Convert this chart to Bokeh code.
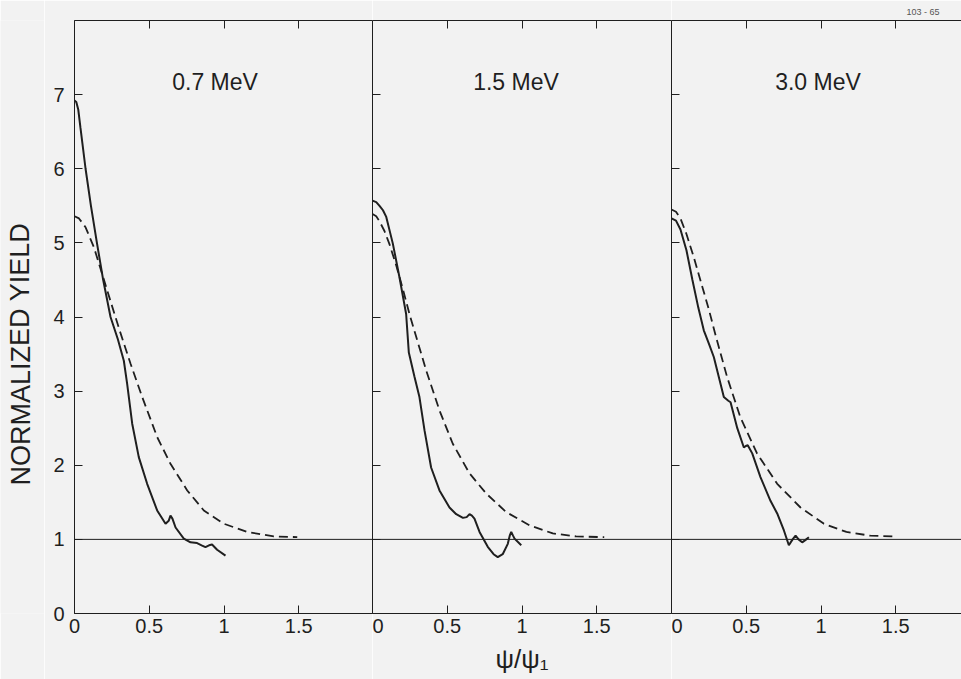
from bokeh.plotting import figure
from bokeh.layouts import row
from bokeh.models import (FixedTicker, NumeralTickFormatter, LinearAxis, Span, Label,
                          Range1d, CustomJSTickFormatter, Title)
from bokeh.embed import file_html
from bokeh.resources import INLINE

# ---------------- data ----------------
x_ticks = [0, 0.5, 1, 1.5]
y_ticks = [0, 1, 2, 3, 4, 5, 6, 7]
energy_labels = ["0.7 MeV", "1.5 MeV", "3.0 MeV"]
y_title = "NORMALIZED YIELD"
x_title = "ψ/ψ₁"
figure_code = "103 - 65"

# 0.7 MeV, measured (solid)
x07_meas = [0, 0.012, 0.025, 0.04, 0.074, 0.11, 0.15, 0.19, 0.241, 0.29, 0.33, 0.352,
            0.386, 0.43, 0.486, 0.553, 0.609, 0.63, 0.642, 0.655, 0.676, 0.731, 0.776,
            0.82, 0.85, 0.876, 0.9, 0.92, 0.954, 1.01]
y07_meas = [6.92, 6.9, 6.8, 6.55, 6.0, 5.5, 5.0, 4.52, 4.0, 3.7, 3.41, 3.10,
            2.56, 2.11, 1.75, 1.39, 1.21, 1.25, 1.32, 1.28, 1.16, 1.01, 0.96,
            0.95, 0.92, 0.895, 0.92, 0.93, 0.86, 0.78]
# 0.7 MeV, calculated (dashed)
x07_calc = [0, 0.03, 0.074, 0.13, 0.185, 0.24, 0.297, 0.375, 0.453, 0.553, 0.642,
            0.754, 0.865, 1.0, 1.155, 1.333, 1.49]
y07_calc = [5.36, 5.33, 5.21, 4.94, 4.58, 4.22, 3.85, 3.37, 2.92, 2.38, 2.02,
            1.66, 1.39, 1.21, 1.10, 1.04, 1.03]

# 1.5 MeV, measured
x15_meas = [0, 0.025, 0.047, 0.07, 0.092, 0.136, 0.18, 0.225, 0.243, 0.28, 0.314,
            0.348, 0.392, 0.448, 0.515, 0.56, 0.605, 0.63, 0.649, 0.665, 0.682,
            0.716, 0.771, 0.81, 0.838, 0.871, 0.905, 0.918, 0.928, 0.94, 0.95, 0.995]
y15_meas = [5.57, 5.55, 5.5, 5.44, 5.35, 4.99, 4.54, 4.04, 3.52, 3.2, 2.92,
            2.47, 1.97, 1.66, 1.43, 1.34, 1.29, 1.3, 1.34, 1.32, 1.28,
            1.10, 0.90, 0.8, 0.76, 0.80, 0.94, 1.05, 1.10, 1.05, 1.01, 0.92]
# 1.5 MeV, calculated
x15_calc = [0, 0.025, 0.047, 0.08, 0.114, 0.158, 0.2, 0.25, 0.303, 0.359, 0.448,
            0.537, 0.649, 0.76, 0.893, 1.05, 1.206, 1.362, 1.55]
y15_calc = [5.39, 5.36, 5.29, 5.16, 4.98, 4.7, 4.4, 4.02, 3.66, 3.28, 2.74,
            2.29, 1.89, 1.62, 1.37, 1.19, 1.08, 1.04, 1.03]

# 3.0 MeV, measured
x30_meas = [0, 0.03, 0.06, 0.1, 0.14, 0.18, 0.216, 0.25, 0.283, 0.35, 0.38, 0.395,
            0.44, 0.484, 0.497, 0.51, 0.54, 0.595, 0.662, 0.707, 0.752, 0.785,
            0.81, 0.83, 0.85, 0.874, 0.895, 0.919]
y30_meas = [5.33, 5.3, 5.18, 4.9, 4.5, 4.12, 3.82, 3.64, 3.46, 2.92, 2.87, 2.85,
            2.5, 2.24, 2.26, 2.27, 2.16, 1.84, 1.52, 1.35, 1.12, 0.92,
            1.0, 1.05, 1.0, 0.96, 0.99, 1.03]
# 3.0 MeV, calculated
x30_calc = [0, 0.03, 0.06, 0.1, 0.15, 0.2, 0.25, 0.294, 0.372, 0.46, 0.572, 0.707,
            0.863, 1.02, 1.17, 1.33, 1.5]
y30_calc = [5.45, 5.42, 5.33, 5.12, 4.8, 4.45, 4.1, 3.76, 3.19, 2.65, 2.16, 1.75,
            1.43, 1.21, 1.10, 1.05, 1.04]

baseline = 1.0

# ---------------- style ----------------
BG = "#f2f2f2"
INK = "#1f1f1f"
FONT = "Liberation Sans"
PX_PER_UNIT = 149.5
H = 679
TOP, BOTTOM = 20, 66
LABEL_W = 44  # strip holding the vertical axis title

panels = [
    (energy_labels[0], x07_meas, y07_meas, x07_calc, y07_calc),
    (energy_labels[1], x15_meas, y15_meas, x15_calc, y15_calc),
    (energy_labels[2], x30_meas, y30_meas, x30_calc, y30_calc),
]
frame_widths = [298, 299, 290]
left_borders = [30, 0, 0]
title_x = [0.94, 0.96, 0.98]

empty_fmt = "return ''"


def style_axis(ax, labels):
    ax.axis_line_color = INK
    ax.axis_line_width = 1
    ax.major_tick_line_color = INK
    ax.major_tick_in = 8
    ax.major_tick_out = 0
    ax.minor_tick_line_color = None
    ax.major_label_text_font = FONT
    ax.major_label_text_font_size = "20px"
    ax.major_label_text_color = INK
    if not labels:
        ax.formatter = CustomJSTickFormatter(code=empty_fmt)
        ax.major_label_standoff = 0


# strip with the vertical y-axis title
ylab = figure(width=LABEL_W, height=H, x_range=Range1d(0, LABEL_W),
              y_range=Range1d(0, H), output_backend="svg", toolbar_location=None,
              x_axis_location=None, y_axis_location=None,
              min_border=0, background_fill_color=BG, border_fill_color=BG,
              outline_line_color=None)
ylab.grid.visible = False
ylab.add_layout(Label(x=20, y=H - 382, text=y_title, text_font=FONT,
                      text_font_size="27px", text_color=INK, angle=1.5708,
                      text_align="center", text_baseline="middle"))

figs = [ylab]
for i, (title, xm, ym, xc, yc) in enumerate(panels):
    fw = frame_widths[i]
    lb = left_borders[i]
    p = figure(width=fw + lb, height=H,
               x_range=Range1d(0, fw / PX_PER_UNIT), y_range=Range1d(0, 8),
               output_backend="svg", toolbar_location=None,
               min_border_left=lb, min_border_right=0,
               min_border_top=TOP, min_border_bottom=BOTTOM,
               background_fill_color=BG, border_fill_color=BG,
               outline_line_color=None)
    p.grid.visible = False

    # bottom axis
    xa = p.xaxis[0]
    xa.ticker = FixedTicker(ticks=x_ticks)
    xa.formatter = NumeralTickFormatter(format="0.[0]")
    style_axis(xa, True)
    xa.major_label_standoff = 5
    if i == 1:
        xa.axis_label = x_title
        xa.axis_label_text_font = FONT
        xa.axis_label_text_font_size = "26px"
        xa.axis_label_text_font_style = "normal"
        xa.axis_label_text_color = INK
        xa.axis_label_standoff = 8

    # left axis
    ya = p.yaxis[0]
    ya.ticker = FixedTicker(ticks=y_ticks)
    style_axis(ya, i == 0)
    if i == 0:
        ya.major_label_standoff = 10

    # top axis
    ta = LinearAxis(ticker=FixedTicker(ticks=x_ticks))
    style_axis(ta, False)
    p.add_layout(ta, "above")

    # baseline at yield 1
    p.add_layout(Span(location=baseline, dimension="width",
                      line_color=INK, line_width=1))

    p.line(xc, yc, line_color=INK, line_width=1.8, line_dash="9 5")
    p.line(xm, ym, line_color=INK, line_width=2)

    p.add_layout(Label(x=title_x[i], y=7.17, text=title, text_font=FONT,
                       text_font_size="23px", text_color=INK,
                       text_align="center", text_baseline="middle"))
    if i == 2:
        p.add_layout(Title(text=figure_code, text_font=FONT, text_font_size="9px",
                           text_font_style="normal", text_color="#555555",
                           align="right", offset=22, standoff=8), "above")
    figs.append(p)

layout = row(*figs, spacing=0)
open("out.html", "w").write(file_html(layout, INLINE))
